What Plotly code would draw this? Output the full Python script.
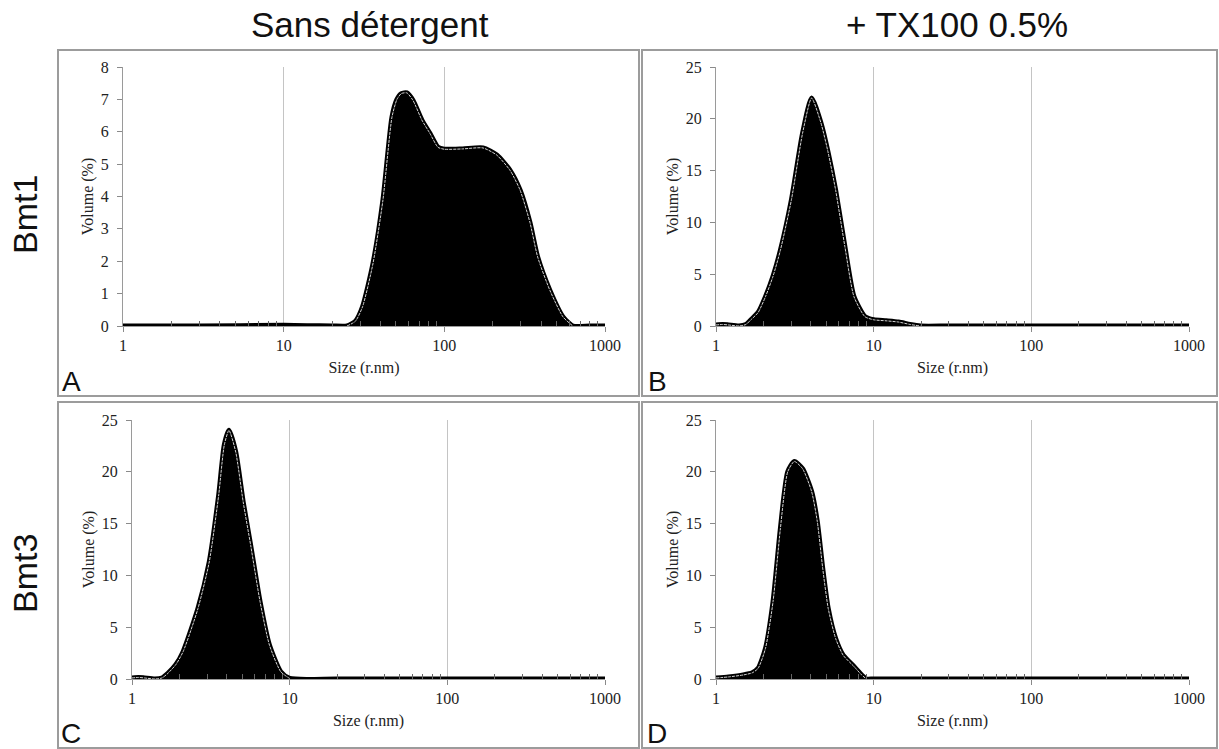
import plotly.graph_objects as go

W, H = 1219, 749

# ---------------- data ----------------
size_a = [1, 3, 10, 14, 20, 24.8, 28, 31, 36, 41.5, 47.2, 50.7, 54, 58.5, 63.8, 72.5,
          81.3, 91.3, 100, 130, 174, 212, 257, 296, 341, 381, 454, 548, 631, 800, 1000]
vol_a = [0, 0, 0.02, 0.01, 0, 0, 0.15, 0.6, 1.94, 3.9, 6.45, 7.0, 7.18, 7.2, 6.97, 6.36,
         5.95, 5.52, 5.46, 5.47, 5.5, 5.28, 4.8, 4.2, 3.2, 2.13, 1.1, 0.28, 0, 0, 0]

size_b = [1, 1.1, 1.2, 1.4, 1.55, 1.66, 1.85, 2.06, 2.3, 2.56, 3.01, 3.54, 4.04, 4.63,
          5.15, 5.74, 6.57, 7.5, 8.8, 10, 12, 14.4, 17, 19.8, 30, 100, 1000]
vol_b = [0.1, 0.15, 0.1, 0.0, 0.15, 0.58, 1.3, 2.83, 4.8, 7.3, 12.2, 18.6, 22.0, 19.6,
         16.7, 13.1, 7.65, 2.83, 0.9, 0.6, 0.5, 0.38, 0.15, 0, 0, 0, 0]

size_c = [1, 1.1, 1.2, 1.4, 1.55, 1.69, 1.9, 2.11, 2.62, 3.09, 3.55, 3.85, 4.12, 4.55,
          5.07, 5.66, 6.49, 7.44, 8.78, 10, 20, 100, 1000]
vol_c = [0.1, 0.15, 0.1, 0, 0.1, 0.55, 1.4, 2.64, 6.8, 11.3, 17.8, 22.6, 24.0, 21.9,
         17.1, 12.9, 7.46, 3.28, 0.7, 0.05, 0, 0, 0]

size_d = [1, 1.2, 1.49, 1.7, 1.85, 2.06, 2.3, 2.56, 2.85, 3.14, 3.54, 4.04, 4.39, 4.75,
          5.15, 5.74, 6.4, 7.52, 8.38, 9, 10, 100, 1000]
vol_d = [0.1, 0.2, 0.39, 0.6, 1.03, 2.96, 7.46, 14.5, 20.0, 21.0, 20.3, 18.1, 15.2, 10.7,
         6.8, 3.9, 2.3, 1.19, 0.4, 0, 0, 0, 0]

x_tickvals = [1, 10, 100, 1000]
x_ticktext = ["1", "10", "100", "1000"]
y_max = [8, 25, 25, 25]
y_dtick = [1, 5, 5, 5]
col_titles = ["Sans détergent", "+ TX100 0.5%"]
row_titles = ["Bmt1", "Bmt3"]
panel_letters = ["A", "B", "C", "D"]
x_title = "Size (r.nm)"
y_title = "Volume (%)"

# ---------------- layout helpers (window pixel -> paper) ----------------
def px(x):
    return min(max(x / W, 0.0), 1.0)

def py(y):
    return min(max(1 - y / H, 0.0), 1.0)

# plot areas in window pixels: (left, right, top, bottom)
areas = [(123, 605, 67, 326), (716, 1189, 67, 326),
         (132, 605, 420, 679), (716, 1189, 420, 679)]
boxes = [(58, 639, 50, 396), (642, 1217, 50, 396),
         (58, 639, 402, 748), (642, 1217, 402, 748)]
letter_pos = [(71, 381), (657, 381), (71, 733), (657, 733)]

SERIF = "Liberation Serif, Times New Roman, serif"
SANS = "Liberation Sans, Arial, sans-serif"

series = [(size_a, vol_a), (size_b, vol_b), (size_c, vol_c), (size_d, vol_d)]

fig = go.Figure()
layout = dict(width=W, height=H, template="none",
              margin=dict(l=0, r=0, t=0, b=0, pad=0, autoexpand=False),
              paper_bgcolor="white", plot_bgcolor="white", showlegend=False)

for i, (xs, ys) in enumerate(series):
    n = "" if i == 0 else str(i + 1)
    xa, ya = "x" + n, "y" + n
    fig.add_trace(go.Scatter(x=xs, y=ys, mode="lines", xaxis=xa, yaxis=ya,
                             line=dict(color="black", width=5, shape="spline", smoothing=0.6),
                             fill="tozeroy", fillcolor="black", hoverinfo="skip"))
    wy = []
    for k, v in enumerate(ys):
        near = any(ys[j] > 0.05 for j in range(max(0, k - 1), min(len(ys), k + 2)))
        wy.append(v if near else None)
    fig.add_trace(go.Scatter(x=xs, y=wy, mode="lines", xaxis=xa, yaxis=ya,
                             line=dict(color="rgba(235,235,235,0.9)", width=1, dash="3px,1px",
                                       shape="spline", smoothing=0.6),
                             hoverinfo="skip", connectgaps=False))
    l, r, t, b = areas[i]
    layout["xaxis" + n] = dict(
        type="log", range=[0, 3], domain=[px(l), px(r)], anchor=ya, automargin=False,
        tickvals=x_tickvals, ticktext=x_ticktext,
        showgrid=True, gridcolor="#c4c4c4", gridwidth=1,
        showline=True, linecolor="#9a9a9a", linewidth=1,
        ticks="outside", ticklen=5, tickcolor="#8a8a8a",
        minor=dict(ticks="inside", ticklen=5, tickcolor="#666", showgrid=False,
                   tickvals=[m * d for d in (1, 10, 100) for m in range(2, 10)]),
        tickfont=dict(family=SERIF, size=16, color="#222"),
        title=dict(text=x_title, font=dict(family=SERIF, size=16, color="#222"), standoff=8),
        zeroline=False, fixedrange=True)
    layout["yaxis" + n] = dict(
        range=[0, y_max[i]], domain=[py(b), py(t)], anchor=xa, automargin=False,
        dtick=y_dtick[i], showgrid=False, zeroline=False,
        showline=True, linecolor="#9a9a9a", linewidth=1,
        ticks="outside", ticklen=5, tickcolor="#8a8a8a", ticklabelstandoff=5,
        tickfont=dict(family=SERIF, size=16, color="#222"),
        title=dict(text=y_title, font=dict(family=SERIF, size=16, color="#222"), standoff=3),
        fixedrange=True)

shapes = []
for (l, r, t, b) in boxes:
    shapes.append(dict(type="rect", xref="paper", yref="paper",
                       x0=px(l), x1=px(r), y0=py(b), y1=py(t),
                       line=dict(color="#9c9c9c", width=2), layer="below"))

annotations = []
for txt, cx in zip(col_titles, [370, 957]):
    annotations.append(dict(text=txt, x=px(cx), y=py(25), xref="paper", yref="paper",
                            showarrow=False, xanchor="center", yanchor="middle",
                            font=dict(family=SANS, size=35, color="#111")))
for txt, cy in zip(row_titles, [215, 574]):
    annotations.append(dict(text=txt, x=px(25), y=py(cy), xref="paper", yref="paper",
                            showarrow=False, xanchor="center", yanchor="middle", textangle=-90,
                            font=dict(family=SANS, size=34, color="#111")))
for txt, (cx, cy) in zip(panel_letters, letter_pos):
    annotations.append(dict(text=txt, x=px(cx), y=py(cy), xref="paper", yref="paper",
                            showarrow=False, xanchor="center", yanchor="middle",
                            font=dict(family=SANS, size=28, color="#111")))

layout["shapes"] = shapes
layout["annotations"] = annotations
fig.update_layout(**layout)
fig.write_html("out.html", config={"displayModeBar": False},
               post_script="document.documentElement.style.margin='0';"
                           "document.body.style.margin='0';"
                           "document.body.style.overflow='hidden';")
